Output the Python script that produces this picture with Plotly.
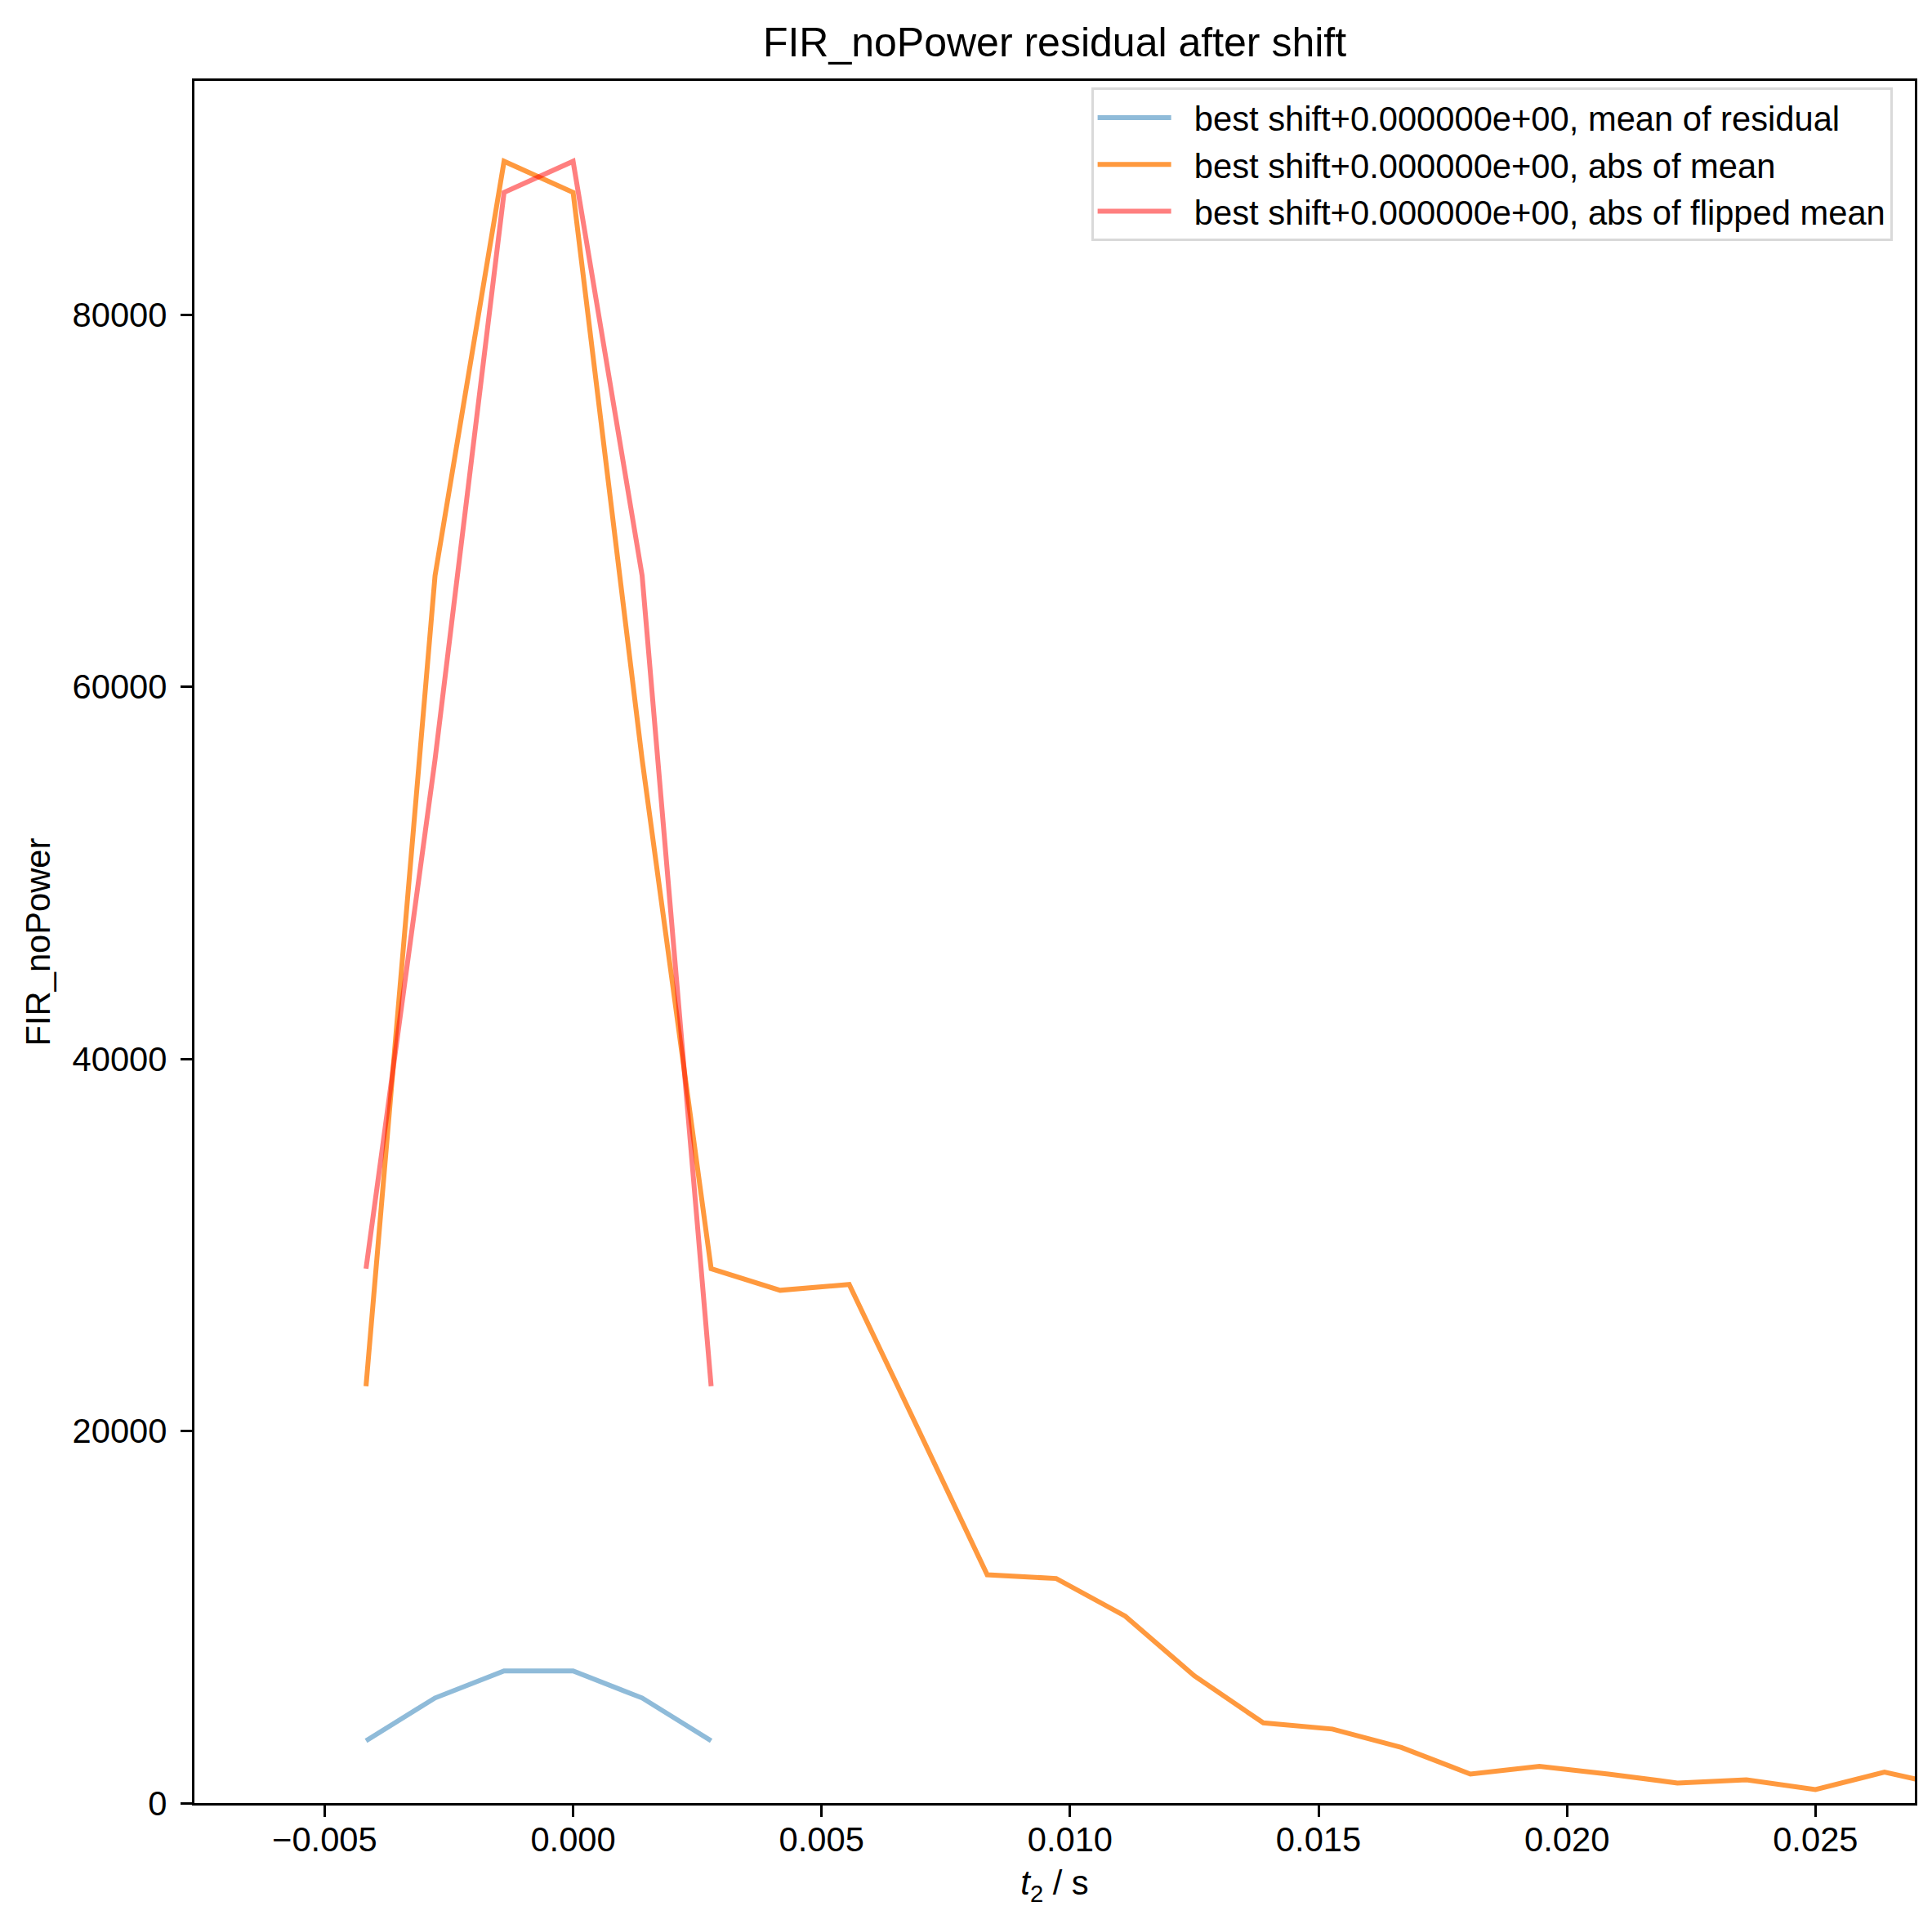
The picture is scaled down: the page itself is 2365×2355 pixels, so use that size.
import plotly.graph_objects as go

# time axis (s), sample step 1/720 s
t2 = [-0.004167, -0.002778, -0.001389, 0.0, 0.001389, 0.002778, 0.004167, 0.005556,
      0.006944, 0.008333, 0.009722, 0.011111, 0.0125, 0.013889, 0.015278, 0.016667,
      0.018056, 0.019444, 0.020833, 0.022222, 0.023611, 0.025, 0.026389, 0.027778]
t2_short = t2[:6]

mean_of_residual = [3350, 5650, 7100, 7100, 5650, 3350]
abs_of_mean = [22400, 65970, 88240, 86570, 56090, 28720, 27560, 27870,
               20100, 12270, 12070, 10050, 6840, 4310, 3980, 2990,
               1560, 1970, 1560, 1080, 1250, 730, 1660, 840]
abs_of_flipped_mean = [28720, 56090, 86570, 88240, 65970, 22400]

x_tick_vals = [-0.005, 0.0, 0.005, 0.010, 0.015, 0.020, 0.025]
x_tick_labels = ["\u22120.005", "0.000", "0.005", "0.010", "0.015", "0.020", "0.025"]
y_tick_vals = [0, 20000, 40000, 60000, 80000]
y_tick_labels = ["0", "20000", "40000", "60000", "80000"]

FONT = "Liberation Sans, Arial, sans-serif"
FS = 41.7   # 10pt @ 300dpi
LW = 6
PAD = "\u00a0\u00a0"  # gap between legend handle and its label

fig = go.Figure()
fig.add_trace(go.Scatter(
    x=t2_short, y=mean_of_residual, mode="lines",
    line=dict(color="rgba(31,119,180,0.5)", width=LW),
    name=PAD + "best shift+0.000000e+00, mean of residual"))
fig.add_trace(go.Scatter(
    x=t2, y=abs_of_mean, mode="lines",
    line=dict(color="rgba(255,127,14,0.8)", width=LW),
    name=PAD + "best shift+0.000000e+00, abs of mean"))
fig.add_trace(go.Scatter(
    x=t2_short, y=abs_of_flipped_mean, mode="lines",
    line=dict(color="rgba(255,0,0,0.5)", width=LW),
    name=PAD + "best shift+0.000000e+00, abs of flipped mean"))

axis_common = dict(
    showline=True, linecolor="black", linewidth=3.3, mirror=True,
    ticks="outside", ticklen=14, tickwidth=3.3, tickcolor="black",
    showgrid=False, zeroline=False,
    tickfont=dict(family=FONT, size=FS, color="black"),
)

fig.update_layout(
    width=2365, height=2355,
    margin=dict(l=230, r=29, t=91, b=156),
    paper_bgcolor="white", plot_bgcolor="white",
    font=dict(family=FONT, size=FS, color="black"),
    title=dict(text="FIR_noPower residual after shift", x=0.5, xref="paper",
               y=1 - 43 / 2355, yref="container", yanchor="middle",
               font=dict(family=FONT, size=50, color="black")),
    xaxis=dict(axis_common, range=[-0.00762, 0.0270],
               tickvals=x_tick_vals, ticktext=x_tick_labels,
               ticklabelstandoff=-8,
               title=dict(text="<i>t</i><sub>2</sub> / s", standoff=16,
                          font=dict(family=FONT, size=FS, color="black"))),
    yaxis=dict(axis_common, range=[0, 92560],
               tickvals=y_tick_vals, ticktext=y_tick_labels,
               ticklabelstandoff=8,
               title=dict(text="FIR_noPower", standoff=14,
                          font=dict(family=FONT, size=FS, color="black"))),
    legend=dict(x=0.987, y=0.996, xanchor="right", yanchor="top",
                itemwidth=90,
                bgcolor="rgba(255,255,255,0.8)", bordercolor="#d9d9d9", borderwidth=3,
                font=dict(family=FONT, size=FS, color="black")),
)

fig.write_html("out.html")
